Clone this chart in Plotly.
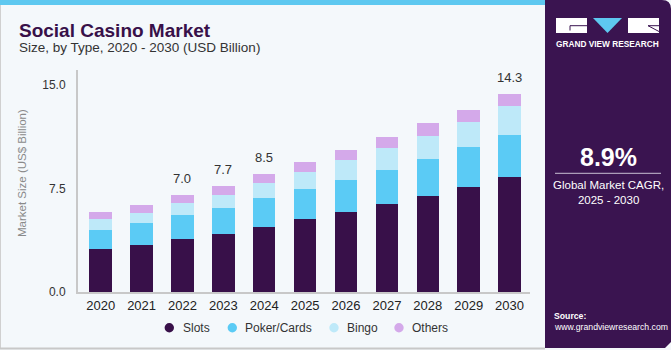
import plotly.graph_objects as go

# ---------------- data ----------------
years = ["2020", "2021", "2022", "2023", "2024", "2025", "2026", "2027", "2028", "2029", "2030"]
slots = [3.10, 3.44, 3.86, 4.24, 4.75, 5.26, 5.77, 6.37, 6.95, 7.60, 8.32]
poker = [1.43, 1.53, 1.71, 1.84, 2.05, 2.22, 2.32, 2.51, 2.73, 2.90, 3.10]
bingo = [0.73, 0.77, 0.92, 0.99, 1.09, 1.21, 1.45, 1.55, 1.62, 1.86, 2.05]
others = [0.51, 0.58, 0.58, 0.60, 0.68, 0.75, 0.77, 0.82, 0.92, 0.87, 0.90]
series_names = ["Slots", "Poker/Cards", "Bingo", "Others"]
series_colors = ["#381049", "#5bcbf5", "#bee9f9", "#d4a9ea"]
label_years = ["2022", "2023", "2024", "2030"]
label_texts = ["7.0", "7.7", "8.5", "14.3"]
y_tickvals = [0, 7.5, 15]
y_ticktext = ["0.0", "7.5", "15.0"]

# ---------------- geometry ----------------
W, H = 671, 350
L, R, T, B = 78, 141, 70, 58
PW, PH = W - L - R, H - T - B
FONT = "Liberation Sans"


def px(x):
    return (x - L) / PW


def py(y):
    return (H - B - y) / PH


fig = go.Figure()
for name, vals, col in zip(series_names, [slots, poker, bingo, others], series_colors):
    fig.add_trace(go.Bar(x=years, y=vals, name=name, marker=dict(color=col, line=dict(width=0)),
                         width=0.55, showlegend=False, hoverinfo="x+y+name"))

totals = [s + p + b + o for s, p, b, o in zip(slots, poker, bingo, others)]

annotations = []
for yr, txt in zip(label_years, label_texts):
    i = years.index(yr)
    annotations.append(dict(x=i, y=totals[i], xref="x", yref="y", text=txt, showarrow=False,
                            yanchor="bottom", yshift=7, font=dict(family=FONT, size=13, color="#333333")))

shapes = []
# top blue stripe
shapes.append(dict(type="rect", xref="paper", yref="paper", x0=px(0), x1=px(545), y0=py(5), y1=py(0),
                   fillcolor="#5ec8f0", line=dict(width=0), layer="below"))
# left & bottom borders
shapes.append(dict(type="line", xref="paper", yref="paper", x0=px(0.5), x1=px(0.5), y0=py(348), y1=py(5),
                   line=dict(color="#d0d0d0", width=1), layer="below"))
shapes.append(dict(type="line", xref="paper", yref="paper", x0=px(0), x1=px(545), y0=py(348.5), y1=py(348.5),
                   line=dict(color="#c8c8c8", width=2), layer="below"))
# right panel
shapes.append(dict(type="path", xref="paper", yref="paper",
                   path=f"M {px(545)},{py(0)} L {px(662)},{py(0)} Q {px(671)},{py(0)} {px(671)},{py(9)} "
                        f"L {px(671)},{py(342)} L {px(665)},{py(348)} L {px(545)},{py(348)} Z",
                   fillcolor="#3a1450", line=dict(width=0), layer="below"))
# logo
shapes.append(dict(type="rect", xref="paper", yref="paper", x0=px(556), x1=px(587), y0=py(33), y1=py(18),
                   fillcolor="#ffffff", line=dict(width=0)))
shapes.append(dict(type="path", xref="paper", yref="paper",
                   path=f"M {px(570)},{py(30.5)} L {px(570)},{py(25.7)} L {px(587)},{py(25.7)}",
                   line=dict(color="#3a1450", width=1)))
shapes.append(dict(type="path", xref="paper", yref="paper",
                   path=f"M {px(593)},{py(18)} L {px(622)},{py(18)} L {px(607.5)},{py(33)} Z",
                   fillcolor="#5ec8f0", line=dict(width=0)))
shapes.append(dict(type="rect", xref="paper", yref="paper", x0=px(628), x1=px(659), y0=py(33), y1=py(18),
                   fillcolor="#ffffff", line=dict(width=0)))
shapes.append(dict(type="path", xref="paper", yref="paper",
                   path=f"M {px(648)},{py(25.7)} L {px(659)},{py(31.5)}",
                   line=dict(color="#3a1450", width=1)))
shapes.append(dict(type="path", xref="paper", yref="paper",
                   path=f"M {px(648)},{py(25.7)} L {px(659)},{py(25.7)}",
                   line=dict(color="#3a1450", width=1)))
# separator line under CAGR
shapes.append(dict(type="line", xref="paper", yref="paper", x0=px(555), x1=px(661), y0=py(173.3), y1=py(173.3),
                   line=dict(color="#c9bfd3", width=1)))

# text
annotations += [
    dict(x=px(17), y=py(30), xref="paper", yref="paper", xanchor="left", yanchor="middle", showarrow=False,
         text="<b>Social Casino Market</b>", font=dict(family=FONT, size=19, color="#381049")),
    dict(x=px(17), y=py(48), xref="paper", yref="paper", xanchor="left", yanchor="middle", showarrow=False,
         text="Size, by Type, 2020 - 2030 (USD Billion)", font=dict(family=FONT, size=13.5, color="#333333")),
    dict(x=px(22), y=py(173), xref="paper", yref="paper", xanchor="center", yanchor="middle", showarrow=False,
         textangle=-90, text="Market Size (US$ Billion)", font=dict(family=FONT, size=11.5, color="#8a8a8a")),
    dict(x=px(607.5), y=py(44), xref="paper", yref="paper", xanchor="center", yanchor="middle", showarrow=False,
         text="<b>GRAND VIEW RESEARCH</b>", font=dict(family=FONT, size=8.3, color="#ffffff")),
    dict(x=px(608), y=py(157), xref="paper", yref="paper", xanchor="center", yanchor="middle", showarrow=False,
         text="<b>8.9%</b>", font=dict(family=FONT, size=25, color="#ffffff")),
    dict(x=px(608), y=py(192), xref="paper", yref="paper", xanchor="center", yanchor="middle", showarrow=False,
         text="Global Market CAGR,<br>2025 - 2030", font=dict(family=FONT, size=11.5, color="#ffffff")),
    dict(x=px(552), y=py(316), xref="paper", yref="paper", xanchor="left", yanchor="middle", showarrow=False,
         text="<b>Source:</b>", font=dict(family=FONT, size=8.7, color="#ffffff")),
    dict(x=px(552), y=py(327), xref="paper", yref="paper", xanchor="left", yanchor="middle", showarrow=False,
         text="www.grandviewresearch.com", font=dict(family=FONT, size=8.7, color="#ffffff")),
]

# manual legend
leg_marker_x = [169.3, 232.3, 334, 399]
leg_text_x = [180.7, 242.7, 345.3, 409.7]
leg_y = 327.7
for name, col, mx, tx in zip(series_names, series_colors, leg_marker_x, leg_text_x):
    shapes.append(dict(type="circle", xref="paper", yref="paper", xsizemode="pixel", ysizemode="pixel",
                       xanchor=px(mx), yanchor=py(leg_y), x0=-4.7, x1=4.7, y0=-4.7, y1=4.7,
                       fillcolor=col, line=dict(width=0)))
    annotations.append(dict(x=px(tx), y=py(leg_y), xref="paper", yref="paper", xanchor="left", yanchor="middle",
                            showarrow=False, text=name, font=dict(family=FONT, size=12, color="#333333")))

fig.update_layout(
    width=W, height=H, margin=dict(l=L, r=R, t=T, b=B, autoexpand=False),
    paper_bgcolor="#f4f8fb", plot_bgcolor="rgba(0,0,0,0)",
    barmode="stack", bargap=0.45,
    showlegend=False,
    font=dict(family=FONT, color="#333333"),
    xaxis=dict(type="category", range=[-0.555, 10.5], showline=True, linecolor="#c8c8c8", linewidth=2,
               showgrid=False, zeroline=False, ticks="", tickfont=dict(family=FONT, size=13, color="#222222")),
    yaxis=dict(range=[0, PH / 13.79], showline=True, linecolor="#c8c8c8", linewidth=2, showgrid=False,
               zeroline=False, ticks="", tickvals=y_tickvals, ticktext=y_ticktext, ticklabelstandoff=8,
               tickfont=dict(family=FONT, size=12, color="#333333")),
    annotations=annotations, shapes=shapes,
)

fig.write_html("out.html")
